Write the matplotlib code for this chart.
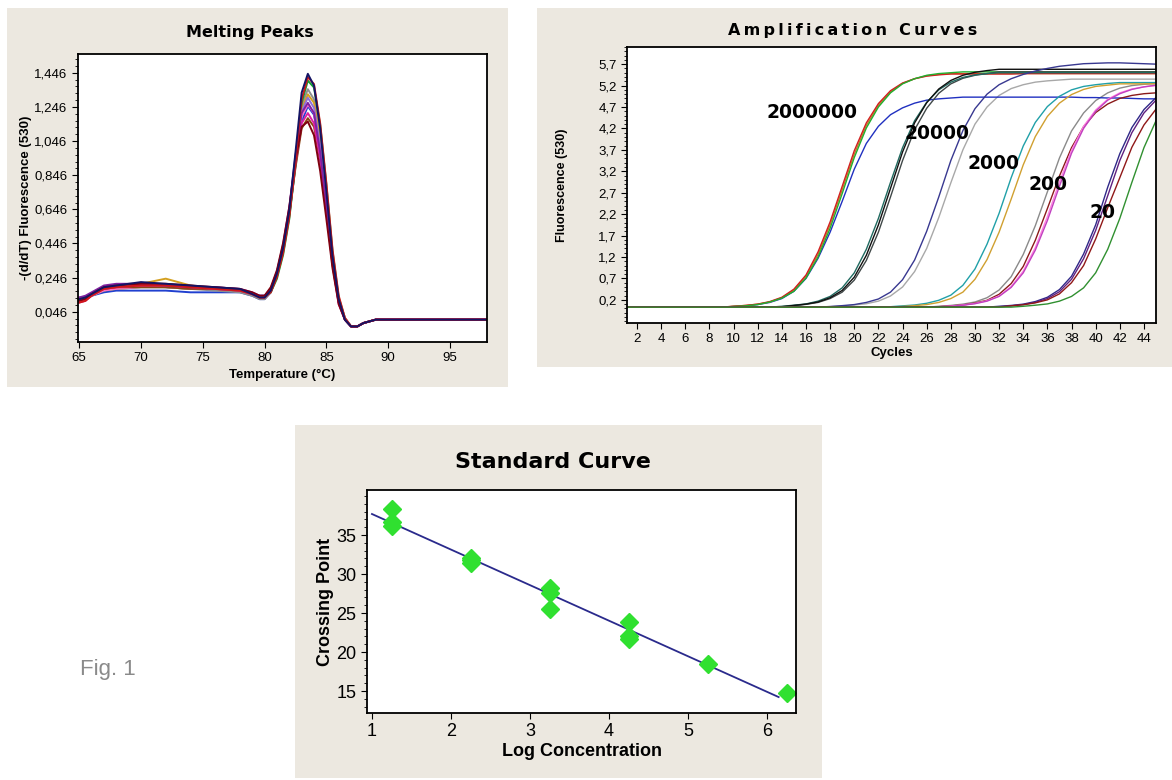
import numpy as np
import matplotlib
matplotlib.use("Agg")
import matplotlib.pyplot as plt
from matplotlib.patches import Rectangle
from matplotlib.ticker import MultipleLocator, FixedLocator, FuncFormatter

plt.rcParams['font.family'] = ['Liberation Sans', 'DejaVu Sans']

# ---------------- Melting peaks data ----------------
melt_temp = [65, 65.5, 66, 67, 68, 70, 72, 74, 76, 78, 79, 79.6, 80, 80.5, 81, 81.5, 82, 82.5,
             83, 83.5, 84, 84.5, 85, 85.5, 86, 86.5, 87, 87.5, 88, 89, 98]
melt_navy = [0.12, 0.13, 0.15, 0.19, 0.20, 0.22, 0.21, 0.20, 0.19, 0.18, 0.15, 0.13, 0.13, 0.17, 0.27, 0.42, 0.64, 0.98, 1.33, 1.44, 1.37, 1.12, 0.75, 0.37, 0.12, 0.00, -0.04, -0.04, -0.02, 0.0, 0.0]
melt_red = [0.10, 0.11, 0.14, 0.18, 0.19, 0.20, 0.20, 0.19, 0.18, 0.17, 0.15, 0.13, 0.13, 0.16, 0.25, 0.39, 0.60, 0.93, 1.29, 1.42, 1.38, 1.15, 0.80, 0.41, 0.14, 0.01, -0.04, -0.04, -0.02, 0.0, 0.0]
melt_green = [0.12, 0.12, 0.14, 0.17, 0.18, 0.19, 0.19, 0.18, 0.18, 0.17, 0.15, 0.14, 0.14, 0.16, 0.24, 0.38, 0.59, 0.91, 1.27, 1.40, 1.36, 1.14, 0.79, 0.40, 0.13, 0.01, -0.04, -0.04, -0.02, 0.0, 0.0]
melt_gray = [0.13, 0.13, 0.15, 0.18, 0.19, 0.20, 0.19, 0.18, 0.17, 0.16, 0.14, 0.12, 0.12, 0.16, 0.26, 0.41, 0.62, 0.94, 1.25, 1.35, 1.29, 1.06, 0.72, 0.35, 0.11, 0.00, -0.04, -0.04, -0.02, 0.0, 0.0]
melt_violet = [0.11, 0.12, 0.15, 0.19, 0.20, 0.21, 0.20, 0.19, 0.18, 0.17, 0.15, 0.14, 0.14, 0.18, 0.27, 0.42, 0.63, 0.94, 1.22, 1.30, 1.24, 1.02, 0.69, 0.34, 0.10, 0.00, -0.04, -0.04, -0.02, 0.0, 0.0]
melt_purple = [0.13, 0.14, 0.16, 0.20, 0.21, 0.21, 0.20, 0.19, 0.19, 0.18, 0.16, 0.14, 0.14, 0.18, 0.28, 0.44, 0.66, 0.96, 1.21, 1.27, 1.21, 0.98, 0.66, 0.33, 0.10, 0.00, -0.04, -0.04, -0.02, 0.0, 0.0]
melt_blue = [0.12, 0.12, 0.14, 0.16, 0.17, 0.17, 0.17, 0.16, 0.16, 0.16, 0.14, 0.12, 0.12, 0.16, 0.26, 0.41, 0.61, 0.90, 1.16, 1.25, 1.20, 0.99, 0.68, 0.34, 0.11, 0.00, -0.04, -0.04, -0.02, 0.0, 0.0]
melt_magenta = [0.10, 0.11, 0.14, 0.18, 0.19, 0.20, 0.20, 0.19, 0.18, 0.17, 0.15, 0.13, 0.13, 0.18, 0.28, 0.43, 0.64, 0.92, 1.15, 1.21, 1.15, 0.94, 0.64, 0.32, 0.09, 0.00, -0.04, -0.04, -0.02, 0.0, 0.0]
melt_brown = [0.12, 0.13, 0.15, 0.18, 0.19, 0.19, 0.19, 0.18, 0.18, 0.17, 0.15, 0.13, 0.13, 0.17, 0.27, 0.42, 0.62, 0.89, 1.12, 1.18, 1.13, 0.93, 0.64, 0.32, 0.10, 0.00, -0.04, -0.04, -0.02, 0.0, 0.0]
melt_darkred = [0.11, 0.12, 0.15, 0.19, 0.20, 0.21, 0.21, 0.20, 0.19, 0.18, 0.16, 0.14, 0.14, 0.19, 0.29, 0.45, 0.66, 0.93, 1.13, 1.16, 1.08, 0.87, 0.59, 0.30, 0.09, 0.00, -0.04, -0.04, -0.02, 0.0, 0.0]
melt_orange = [0.12, 0.13, 0.15, 0.18, 0.19, 0.21, 0.24, 0.20, 0.18, 0.17, 0.15, 0.13, 0.13, 0.17, 0.26, 0.41, 0.62, 0.94, 1.23, 1.32, 1.27, 1.05, 0.72, 0.36, 0.12, 0.01, -0.04, -0.04, -0.02, 0.0, 0.0]
melt_pink = [0.11, 0.12, 0.14, 0.17, 0.18, 0.19, 0.19, 0.18, 0.18, 0.17, 0.15, 0.14, 0.14, 0.18, 0.28, 0.43, 0.65, 0.94, 1.19, 1.26, 1.21, 1.00, 0.69, 0.35, 0.11, 0.01, -0.04, -0.04, -0.02, 0.0, 0.0]
melt_yticks = [0.046, 0.246, 0.446, 0.646, 0.846, 1.046, 1.246, 1.446]
melt_xticks = [65, 70, 75, 80, 85, 90, 95]

# ---------------- Amplification data (cycles 1..45) ----------------
amp_cycles = list(range(1, 46))
B = 0.03
amp_red = [B]*9 + [0.05, 0.07, 0.10, 0.16, 0.26, 0.45, 0.78, 1.32, 2.02, 2.85, 3.68, 4.33, 4.78, 5.08, 5.26, 5.36, 5.42, 5.45] + [5.47]*6 + [5.48]*12
amp_green = [B]*9 + [0.045, 0.06, 0.09, 0.15, 0.24, 0.40, 0.71, 1.20, 1.87, 2.68, 3.52, 4.21, 4.70, 5.03, 5.24, 5.36, 5.44, 5.48, 5.50] + [5.52]*17
amp_orange = [B]*9 + [0.05, 0.07, 0.10, 0.15, 0.25, 0.43, 0.75, 1.26, 1.95, 2.77, 3.60, 4.27, 4.74, 5.05, 5.25, 5.36, 5.43, 5.46] + [5.48]*18
amp_blue = [B]*9 + [0.045, 0.06, 0.09, 0.14, 0.23, 0.40, 0.70, 1.17, 1.78, 2.50, 3.25, 3.85, 4.25, 4.52, 4.68, 4.79, 4.86, 4.89, 4.91] + [4.93]*10 + [4.92, 4.92, 4.91, 4.91, 4.90, 4.89, 4.89]
amp_darkteal = [B]*13 + [0.05, 0.075, 0.105, 0.17, 0.28, 0.48, 0.83, 1.38, 2.10, 2.94, 3.75, 4.38, 4.81, 5.10, 5.28, 5.39, 5.45, 5.48] + [5.50]*14
amp_black = [B]*13 + [0.04, 0.07, 0.10, 0.15, 0.25, 0.42, 0.73, 1.24, 1.95, 2.80, 3.65, 4.33, 4.80, 5.12, 5.32, 5.44, 5.51, 5.55] + [5.58]*14
amp_darkgray = [B]*14 + [0.065, 0.095, 0.14, 0.23, 0.38, 0.66, 1.12, 1.78, 2.60, 3.45, 4.17, 4.67, 5.02, 5.24, 5.37, 5.44, 5.48] + [5.52]*14
amp_navy = [B]*17 + [0.045, 0.065, 0.09, 0.14, 0.22, 0.38, 0.67, 1.13, 1.80, 2.60, 3.45, 4.15, 4.66, 5.00, 5.22, 5.36, 5.46, 5.54, 5.60, 5.65, 5.68, 5.71, 5.72, 5.73, 5.73, 5.72, 5.71, 5.70]
amp_lightgray = [B]*17 + [0.04, 0.055, 0.08, 0.11, 0.17, 0.29, 0.50, 0.86, 1.40, 2.12, 2.93, 3.70, 4.30, 4.70, 4.97, 5.13, 5.22, 5.28, 5.31, 5.33] + [5.35]*8
amp_teal = [B]*22 + [0.04, 0.06, 0.08, 0.12, 0.19, 0.31, 0.54, 0.92, 1.50, 2.22, 3.05, 3.79, 4.34, 4.71, 4.95, 5.10, 5.18, 5.22, 5.25] + [5.27]*4
amp_yellow = [B]*22 + [0.035, 0.045, 0.065, 0.09, 0.14, 0.23, 0.38, 0.68, 1.14, 1.78, 2.55, 3.35, 4.01, 4.48, 4.79, 4.99, 5.11, 5.18, 5.21] + [5.24]*4
amp_gray = [B]*26 + [0.05, 0.07, 0.10, 0.15, 0.25, 0.43, 0.74, 1.26, 1.93, 2.72, 3.51, 4.14, 4.56, 4.85, 5.03, 5.14, 5.20, 5.23, 5.25]
amp_darkred = [B]*26 + [0.04, 0.06, 0.08, 0.125, 0.19, 0.33, 0.58, 0.98, 1.59, 2.33, 3.09, 3.75, 4.24, 4.57, 4.77, 4.90, 4.97, 5.01, 5.03]
amp_pink = [B]*26 + [0.04, 0.055, 0.08, 0.115, 0.18, 0.29, 0.51, 0.87, 1.42, 2.14, 2.95, 3.69, 4.25, 4.63, 4.88, 5.03, 5.12, 5.17, 5.20]
amp_magenta = [B]*26 + [0.04, 0.05, 0.075, 0.11, 0.17, 0.28, 0.49, 0.83, 1.36, 2.05, 2.85, 3.62, 4.20, 4.60, 4.86, 5.01, 5.11, 5.17, 5.21]
amp_navy20 = [B]*30 + [0.03, 0.05, 0.07, 0.10, 0.16, 0.26, 0.44, 0.75, 1.27, 1.95, 2.83, 3.61, 4.22, 4.64, 4.92]
amp_purple20 = [B]*31 + [0.04, 0.06, 0.09, 0.14, 0.23, 0.39, 0.68, 1.16, 1.82, 2.63, 3.45, 4.10, 4.56, 4.86]
amp_maroon20 = [B]*32 + [0.06, 0.085, 0.13, 0.20, 0.34, 0.60, 1.00, 1.62, 2.35, 3.05, 3.76, 4.28, 4.65]
amp_green20 = [B]*33 + [0.05, 0.075, 0.105, 0.17, 0.28, 0.48, 0.83, 1.38, 2.10, 2.94, 3.75, 4.38]
amp_yticks = [0.2, 0.7, 1.2, 1.7, 2.2, 2.7, 3.2, 3.7, 4.2, 4.7, 5.2, 5.7]
amp_xticks = list(range(2, 46, 2))
amp_labels = ["2000000", "20000", "2000", "200", "20"]
amp_label_x = [16.5, 26.85, 31.5, 36.05, 40.6]
amp_label_y = [4.56, 4.09, 3.39, 2.90, 2.23]

# ---------------- Standard curve data ----------------
std_logconc = [1.25, 1.25, 1.25, 2.25, 2.25, 2.25, 3.25, 3.25, 3.25, 4.25, 4.25, 4.25, 5.25, 6.25]
std_cp = [38.3, 36.7, 36.2, 32.1, 31.8, 31.4, 28.2, 27.6, 25.5, 23.9, 22.0, 21.7, 18.5, 14.8]
std_line_x = [1.0, 6.15]
std_yticks = [15, 20, 25, 30, 35]
std_xticks = [1, 2, 3, 4, 5, 6]

BEIGE = "#ece8e0"
W, H = 1172, 780
fig = plt.figure(figsize=(W / 100, H / 100), dpi=100)
fig.patch.set_facecolor("white")

def fig_rect(x0, y0, x1, y1):
    return [x0 / W, 1 - y1 / H, (x1 - x0) / W, (y1 - y0) / H]

for (x0, y0, x1, y1) in [(7, 8, 508, 387), (537, 8, 1172, 367), (295, 425, 822, 778)]:
    r = fig_rect(x0, y0, x1, y1)
    fig.patches.append(Rectangle((r[0], r[1]), r[2], r[3], transform=fig.transFigure,
                                 facecolor=BEIGE, edgecolor="none", zorder=-10))

comma = lambda fmt: FuncFormatter(lambda v, p: (fmt % v).replace(".", ","))

def style(ax):
    for s in ax.spines.values():
        s.set_linewidth(1.3)
        s.set_color("black")
    ax.set_facecolor("white")

# ---- Melting Peaks ----
ax1 = fig.add_axes(fig_rect(78, 54, 487, 342))
style(ax1)
melt_series = [
    (melt_blue, "#2040d0"), (melt_gray, "#8e8e8e"), (melt_orange, "#d4a020"),
    (melt_green, "#10a030"), (melt_pink, "#ff70c8"), (melt_violet, "#9070d8"),
    (melt_brown, "#8b4513"), (melt_magenta, "#e020a0"), (melt_purple, "#8020a0"),
    (melt_darkred, "#800010"), (melt_red, "#d01818"), (melt_navy, "#141464"),
]
for vals, c in melt_series:
    ax1.plot(melt_temp, vals, color=c, lw=1.4)
ax1.set_xlim(64.9, 98)
ax1.set_ylim(-0.131, 1.556)
ax1.yaxis.set_major_locator(FixedLocator(melt_yticks))
ax1.yaxis.set_major_formatter(comma("%.3f"))
ax1.yaxis.set_minor_locator(MultipleLocator(0.04, offset=0.046))
ax1.xaxis.set_major_locator(FixedLocator(melt_xticks))
ax1.tick_params(axis="both", which="major", labelsize=9.5, length=4, width=0.8)
ax1.tick_params(axis="y", which="minor", length=2.5, width=0.6)
ax1.set_xlabel("Temperature (°C)", fontsize=9.5, fontweight="bold", labelpad=3)
ax1.set_ylabel("-(d/dT) Fluorescence (530)", fontsize=9.5, fontweight="bold", labelpad=2)
fig.text(250 / W, 1 - 33 / H, "Melting Peaks", ha="center", va="center",
         fontsize=11.5, fontweight="bold", family="DejaVu Sans")

# ---- Amplification Curves ----
ax2 = fig.add_axes(fig_rect(627, 47, 1156, 323))
style(ax2)
amp_series = [
    (amp_lightgray, "#a8a8a8"), (amp_gray, "#8a8a8a"), (amp_blue, "#2030c0"),
    (amp_orange, "#c87828"), (amp_red, "#d02020"), (amp_green, "#20b030"),
    (amp_darkgray, "#404848"), (amp_darkteal, "#206a60"), (amp_black, "#101010"),
    (amp_navy, "#383890"), (amp_teal, "#20a0a8"), (amp_yellow, "#d0a030"),
    (amp_darkred, "#8a1a1a"), (amp_pink, "#ff80e0"), (amp_magenta, "#c040c0"),
    (amp_navy20, "#302888"), (amp_purple20, "#602080"), (amp_maroon20, "#901818"),
    (amp_green20, "#309030"),
]
for vals, c in amp_series:
    ax2.plot(amp_cycles, vals, color=c, lw=1.0)
ax2.set_xlim(1.17, 45.0)
ax2.set_ylim(-0.34, 6.1)
ax2.yaxis.set_major_locator(FixedLocator(amp_yticks))
ax2.yaxis.set_major_formatter(comma("%.1f"))
ax2.yaxis.set_minor_locator(MultipleLocator(0.1))
ax2.xaxis.set_major_locator(FixedLocator(amp_xticks))
ax2.tick_params(axis="both", which="major", labelsize=9.5, length=4, width=0.8)
ax2.tick_params(axis="y", which="minor", length=2.5, width=0.6)
ax2.set_xlabel("Cycles", fontsize=9.5, fontweight="bold", labelpad=1)
ax2.set_ylabel("Fluorescence (530)", fontsize=9, fontweight="bold", labelpad=22)
for t, x, y in zip(amp_labels, amp_label_x, amp_label_y):
    ax2.text(x, y, t, ha="center", va="center", fontsize=13.5, fontweight="bold",
             family="DejaVu Sans", color="black")
fig.text(853 / W, 1 - 30 / H, "\u2009".join("Amplification") + "\u2009\u2009 " + "\u2009".join("Curves"),
         ha="center", va="center", fontsize=11.5, fontweight="bold", family="DejaVu Sans")

# ---- Standard Curve ----
ax3 = fig.add_axes(fig_rect(367, 490, 796, 713))
style(ax3)
coef = np.polyfit(std_logconc, std_cp, 1)
lx = np.array(std_line_x)
ax3.plot(lx, np.polyval(coef, lx), color="#2a2a8c", lw=1.3)
ax3.plot(std_logconc, std_cp, "D", color="#30e030", ms=9, mec="#30e030")
ax3.set_xlim(0.937, 6.37)
ax3.set_ylim(12.18, 40.77)
ax3.yaxis.set_major_locator(FixedLocator(std_yticks))
ax3.yaxis.set_minor_locator(MultipleLocator(1))
ax3.xaxis.set_major_locator(FixedLocator(std_xticks))
ax3.tick_params(axis="both", which="major", labelsize=13, length=4, width=0.8)
ax3.tick_params(axis="y", which="minor", length=2.5, width=0.6)
ax3.set_xlabel("Log Concentration", fontsize=13, fontweight="bold", labelpad=2)
ax3.set_ylabel("Crossing Point", fontsize=13, fontweight="bold", labelpad=2)
fig.text(553 / W, 1 - 462 / H, "Standard Curve", ha="center", va="center",
         fontsize=16, fontweight="bold", family="DejaVu Sans")

fig.text(80 / W, 1 - 670 / H, "Fig. 1", ha="left", va="center", fontsize=16, color="#8a8a8a")

fig.savefig("out.png", dpi=100)
